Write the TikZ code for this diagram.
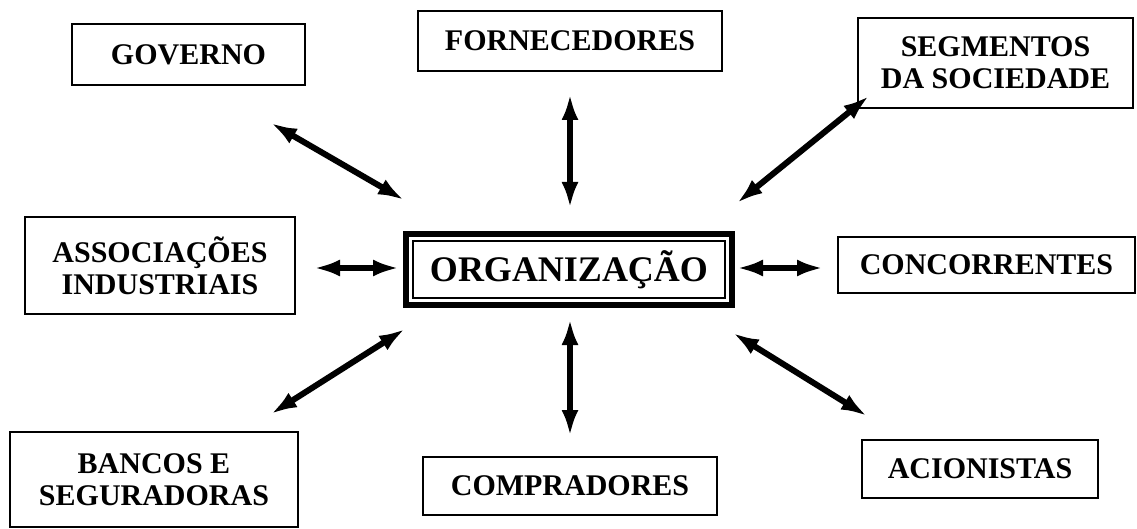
\documentclass[tikz,border=0pt]{standalone}
\usepackage{fontspec}
\setmainfont{Liberation Serif}
\usetikzlibrary{arrows.meta}

\tikzset{
    party/.style={draw, line width=1.6pt, align=center, inner sep=0pt,
        font=\fontsize{30}{32}\selectfont\bfseries},
    link/.style={line width=6pt, {Latex[length=26pt,width=17pt]}-{Latex[length=26pt,width=17pt]}}
}

\begin{document}
\begin{tikzpicture}[x=1pt, y=-1pt]
    \useasboundingbox (0,0) rectangle (1137,529);

    \node[party, minimum width=233pt, minimum height=61pt] (gov) at (188.5,54.5) {GOVERNO};
    \node[party, minimum width=304pt, minimum height=60pt] (forn) at (570,41) {FORNECEDORES};
    \node[party, minimum width=275pt, minimum height=90pt] (seg) at (995.5,63) {SEGMENTOS\\DA SOCIEDADE};
    \node[party, minimum width=270pt, minimum height=97pt] (assoc) at (160,265.5) {ASSOCIAÇÕES\\INDUSTRIAIS};
    \node[party, minimum width=297pt, minimum height=56pt] (conc) at (986.5,265) {CONCORRENTES};
    \node[party, minimum width=288pt, minimum height=95pt] (banc) at (154,479.5) {BANCOS E\\SEGURADORAS};
    \node[party, minimum width=294pt, minimum height=58pt] (comp) at (570,486) {COMPRADORES};
    \node[party, minimum width=236pt, minimum height=58pt] (acion) at (980,469) {ACIONISTAS};

    \node[draw, line width=1.6pt, inner sep=0pt, minimum width=312pt, minimum height=57pt,
        font=\fontsize{36}{36}\selectfont\bfseries] (org) at (569,269.5) {ORGANIZAÇÃO};
    \draw[line width=6pt] ([shift={(-6pt,6pt)}]org.north west) rectangle ([shift={(6pt,-6pt)}]org.south east);

    \coordinate (gov1) at (271,123);
    \coordinate (gov2) at (404,200);
    \coordinate (forn1) at (570,94);
    \coordinate (forn2) at (570,208);
    \coordinate (seg1) at (869,96);
    \coordinate (seg2) at (737,203);
    \coordinate (assoc1) at (314,268);
    \coordinate (assoc2) at (399,268);
    \coordinate (conc1) at (737,268);
    \coordinate (conc2) at (823,268);
    \coordinate (banc1) at (271,414);
    \coordinate (banc2) at (405,329);
    \coordinate (comp1) at (570,319);
    \coordinate (comp2) at (570,436);
    \coordinate (acion1) at (733,333);
    \coordinate (acion2) at (867,416);

    \draw[link] (gov1) -- (gov2);
    \draw[link] (forn1) -- (forn2);
    \draw[link] (seg1) -- (seg2);
    \draw[link] (assoc1) -- (assoc2);
    \draw[link] (conc1) -- (conc2);
    \draw[link] (banc1) -- (banc2);
    \draw[link] (comp1) -- (comp2);
    \draw[link] (acion1) -- (acion2);
\end{tikzpicture}
\end{document}
